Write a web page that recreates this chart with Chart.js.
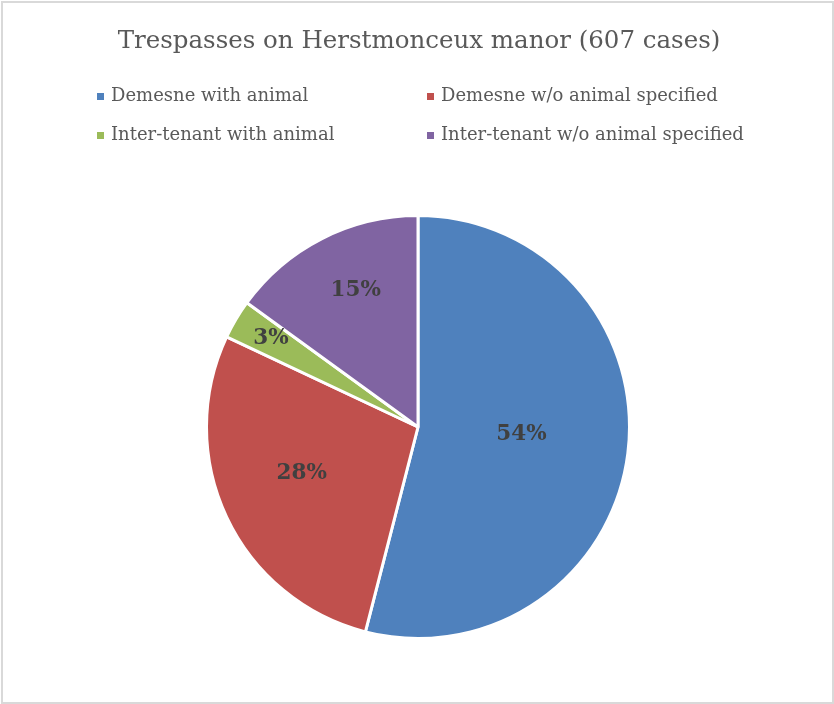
<!DOCTYPE html>
<html>
<head>
<meta charset="utf-8">
<script src="https://cdn.jsdelivr.net/npm/chart.js@4/dist/chart.umd.min.js"></script>
<style>
  body { margin: 0; background: #fff; }
  #wrap { width: 834px; height: 704px; position: relative; }
</style>
</head>
<body>
<div id="wrap"><canvas id="chart" width="834" height="704"></canvas></div>
<script>
const title = "Trespasses on Herstmonceux manor (607 cases)";
const categories = [
    "Demesne with animal",
    "Demesne w/o animal specified",
    "Inter-tenant with animal",
    "Inter-tenant w/o animal specified"
];
const shares = [54, 28, 3, 15];
const colors = ["#4F81BD", "#C0504D", "#9BBB59", "#8064A2"];

// where each percentage sits: fraction of the radius, and a small turn (degrees) off the slice's middle
const labelRadius = [0.49, 0.59, 0.815, 0.715];
const labelTurn = [-3.9, 4, 0.8, 2.7];

const serif = "'DejaVu Serif', serif";

let frame = {
    id: "frame",
    beforeDraw: (chart) => {
        let ctx = chart.ctx;
        ctx.save();
        ctx.fillStyle = "#fff";
        ctx.fillRect(0, 0, chart.width, chart.height);
        ctx.strokeStyle = "#d9d9d9";
        ctx.lineWidth = 2;
        ctx.strokeRect(2, 2, chart.width - 3, chart.height - 3);
        ctx.restore();
    }
};

let header = {
    id: "header",
    afterDraw: (chart) => {
        let ctx = chart.ctx;
        ctx.save();
        ctx.fillStyle = "#595959";
        ctx.textBaseline = "middle";
        ctx.textAlign = "center";
        ctx.font = "24.5px " + serif;
        ctx.fillText(title, 419, 42);

        // two-column legend
        ctx.textAlign = "left";
        ctx.font = "18px " + serif;
        let cols = [100, 430];
        let rows = [96, 135];
        categories.forEach((name, i) => {
            let x = cols[i % 2];
            let y = rows[Math.floor(i / 2)];
            ctx.fillStyle = colors[i];
            ctx.fillRect(x - 3, y - 3, 7, 7);
            ctx.fillStyle = "#595959";
            ctx.fillText(name, x + 11, y);
        });
        ctx.restore();
    }
};

let sliceLabels = {
    id: "sliceLabels",
    afterDatasetsDraw: (chart) => {
        let ctx = chart.ctx;
        let total = shares.reduce((a, b) => a + b, 0);
        ctx.save();
        ctx.fillStyle = "#404040";
        ctx.font = "bold 21.5px " + serif;
        ctx.textAlign = "center";
        ctx.textBaseline = "middle";
        chart.getDatasetMeta(0).data.forEach((arc, i) => {
            let mid = (arc.startAngle + arc.endAngle) / 2 + labelTurn[i] * Math.PI / 180;
            let r = arc.outerRadius * labelRadius[i];
            let x = arc.x + Math.cos(mid) * r;
            let y = arc.y + Math.sin(mid) * r;
            ctx.fillText(Math.round(shares[i] / total * 100) + "%", x, y + 1);
        });
        ctx.restore();
    }
};

let chart = new Chart("chart", {
    type: "pie",
    data: {
        labels: categories,
        datasets: [{
            data: shares,
            backgroundColor: colors,
            borderColor: "#fff",
            borderWidth: 3
        }]
    },
    options: {
        responsive: false,
        animation: false,
        layout: { padding: { top: 214, bottom: 64, left: 100, right: 98 } },
        plugins: {
            legend: { display: false },
            title: { display: false },
            tooltip: { enabled: false }
        }
    },
    plugins: [frame, header, sliceLabels]
});
</script>
</body>
</html>
